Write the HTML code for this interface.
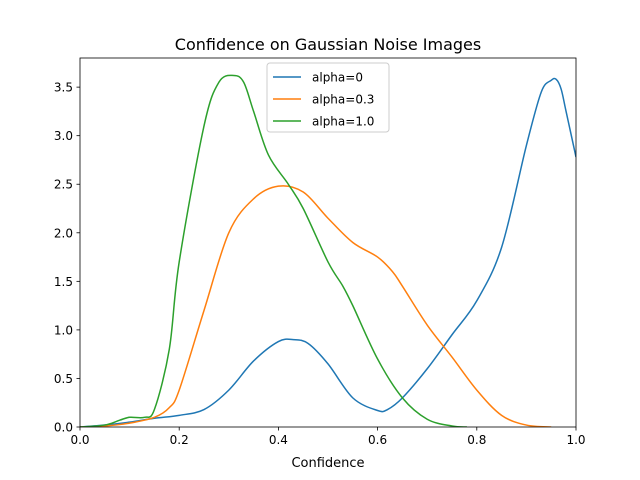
<!DOCTYPE html>
<html><head><meta charset="utf-8"><style>
body{margin:0;background:#fff}
svg{display:block;font-family:"DejaVu Sans","Liberation Sans",sans-serif}
</style></head><body>
<svg id="chart" width="640" height="480">
<rect x="0" y="0" width="640" height="480" fill="#fff"/>
<g id="plot"></g>
<g id="axes"></g>
<text x="328" y="50" text-anchor="middle" font-size="16">Confidence on Gaussian Noise Images</text>
<text x="328" y="467" text-anchor="middle" font-size="13">Confidence</text>
<g id="legend"></g>
</svg>
<script>
const xTicks=[0,0.2,0.4,0.6,0.8,1.0];
const xTickLabels=["0.0","0.2","0.4","0.6","0.8","1.0"];
const yTicks=[0,0.5,1,1.5,2,2.5,3,3.5];
const yTickLabels=["0.0","0.5","1.0","1.5","2.0","2.5","3.0","3.5"];
const seriesNames=["alpha=0","alpha=0.3","alpha=1.0"];
const seriesColors=["#1f77b4","#ff7f0e","#2ca02c"];
const blueX=[0,0.05,0.1,0.15,0.2,0.25,0.3,0.35,0.4,0.43,0.46,0.5,0.55,0.6,0.62,0.65,0.7,0.75,0.8,0.85,0.9,0.93,0.95,0.96,0.97,0.98,1.0];
const blueY=[0,0.02,0.05,0.09,0.12,0.18,0.38,0.68,0.88,0.9,0.86,0.65,0.3,0.17,0.18,0.3,0.6,0.95,1.3,1.85,2.9,3.45,3.57,3.58,3.48,3.25,2.78];
const orangeX=[0,0.05,0.1,0.15,0.18,0.2,0.25,0.3,0.35,0.4,0.45,0.5,0.55,0.6,0.63,0.65,0.7,0.75,0.8,0.85,0.9,0.95];
const orangeY=[0,0.01,0.04,0.1,0.2,0.38,1.2,2.0,2.35,2.48,2.42,2.15,1.9,1.75,1.6,1.45,1.05,0.72,0.38,0.12,0.02,0];
const greenX=[0,0.05,0.08,0.1,0.13,0.15,0.18,0.2,0.25,0.28,0.31,0.33,0.35,0.38,0.42,0.45,0.5,0.53,0.55,0.6,0.65,0.7,0.75,0.78];
const greenY=[0,0.02,0.07,0.1,0.1,0.18,0.8,1.7,3.1,3.55,3.62,3.55,3.25,2.8,2.5,2.25,1.7,1.45,1.25,0.7,0.3,0.08,0.01,0];
const L=80,R=576,T=58,B=427,YMAX=3.8;
const sx=v=>L+(R-L)*v, sy=v=>B-(B-T)*v/YMAX;
const NS="http://www.w3.org/2000/svg";
function mk(tag,attrs,parent){const e=document.createElementNS(NS,tag);for(const k in attrs)e.setAttribute(k,attrs[k]);parent.appendChild(e);return e;}
function path(xs,ys){
 const p=xs.map((x,i)=>[sx(x),sy(ys[i])]);
 let d="M"+p[0][0]+","+p[0][1];
 for(let i=0;i<p.length-1;i++){
  const p0=p[i-1]||p[i],p1=p[i],p2=p[i+1],p3=p[i+2]||p2;
  const c1=[p1[0]+(p2[0]-p0[0])/6,p1[1]+(p2[1]-p0[1])/6];
  const c2=[p2[0]-(p3[0]-p1[0])/6,p2[1]-(p3[1]-p1[1])/6];
  d+=` C${c1[0]},${c1[1]} ${c2[0]},${c2[1]} ${p2[0]},${p2[1]}`;
 }
 return d;
}
const plot=document.getElementById('plot');
mk('clipPath',{id:'clip'},plot).appendChild(document.createElementNS(NS,'rect'));
const cr=plot.querySelector('clipPath rect');cr.setAttribute('x',L);cr.setAttribute('y',T);cr.setAttribute('width',R-L);cr.setAttribute('height',B-T);
const data=[[blueX,blueY],[orangeX,orangeY],[greenX,greenY]];
const lineNames=['line-alpha-0','line-alpha-0-3','line-alpha-1-0'];
data.forEach((s,i)=>{
 const el=mk('path',{d:path(s[0],s[1]),fill:'none',stroke:seriesColors[i],'stroke-width':1.5,'clip-path':'url(#clip)'},plot);
 
 
});
const ax=document.getElementById('axes');
const frame=mk('rect',{x:L,y:T,width:R-L,height:B-T,fill:'none',stroke:'#000','stroke-width':0.8},ax);


xTicks.forEach((v,i)=>{
 mk('line',{x1:sx(v),x2:sx(v),y1:B,y2:B+3.5,stroke:'#000','stroke-width':0.8},ax);
 const t=mk('text',{x:sx(v),y:B+17,'text-anchor':'middle','font-size':12},ax);t.textContent=xTickLabels[i];
 
 
});
yTicks.forEach((v,i)=>{
 mk('line',{x1:L,x2:L-3.5,y1:sy(v),y2:sy(v),stroke:'#000','stroke-width':0.8},ax);
 const t=mk('text',{x:L-7,y:sy(v)+4.5,'text-anchor':'end','font-size':12},ax);t.textContent=yTickLabels[i];
 
 
});
const lg=document.getElementById('legend');
mk('rect',{x:267,y:63,width:122,height:69,rx:3,fill:'#fff','fill-opacity':0.8,stroke:'#ccc'},lg);
seriesNames.forEach((n,i)=>{
 const y=77+i*22;
 const ln=mk('line',{x1:273,x2:301,y1:y,y2:y,stroke:seriesColors[i],'stroke-width':1.5},lg);
 
 
 const t=mk('text',{x:312,y:y+4.5,'font-size':12},lg);t.textContent=n;
 
 
});
</script>
</body></html>
